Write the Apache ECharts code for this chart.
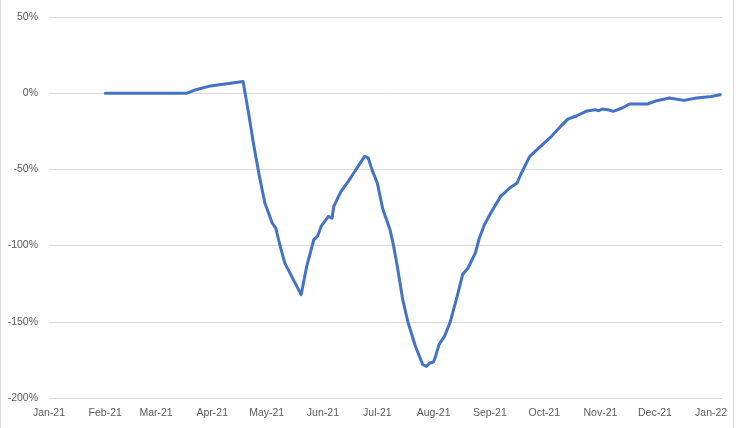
<!DOCTYPE html>
<html>
<head>
<meta charset="utf-8">
<script src="https://cdn.jsdelivr.net/npm/echarts@6/dist/echarts.min.js"></script>
<style>html,body{margin:0;padding:0;background:#fff}#c{width:736px;height:428px}</style>
</head>
<body>
<div id="c"></div>
<script>
const dates = ['2021-02-01','2021-03-18','2021-03-23','2021-03-30','2021-04-18','2021-04-21','2021-04-24','2021-04-27','2021-04-30','2021-05-04','2021-05-06','2021-05-08','2021-05-11','2021-05-20','2021-05-23','2021-05-27','2021-05-29','2021-05-31','2021-06-04','2021-06-06','2021-06-07','2021-06-11','2021-06-15','2021-06-18','2021-06-21','2021-06-24','2021-06-25','2021-06-26','2021-06-28','2021-07-01','2021-07-04','2021-07-08','2021-07-10','2021-07-12','2021-07-15','2021-07-18','2021-07-22','2021-07-26','2021-07-28','2021-07-30','2021-08-01','2021-08-02','2021-08-04','2021-08-07','2021-08-10','2021-08-14','2021-08-17','2021-08-20','2021-08-24','2021-08-26','2021-08-29','2021-09-02','2021-09-07','2021-09-12','2021-09-16','2021-09-18','2021-09-23','2021-09-29','2021-10-02','2021-10-05','2021-10-10','2021-10-14','2021-10-19','2021-10-24','2021-10-29','2021-10-31','2021-11-02','2021-11-05','2021-11-08','2021-11-13','2021-11-17','2021-11-27','2021-12-02','2021-12-09','2021-12-17','2021-12-24','2022-01-01','2022-01-06'];
const values = [0,0,2.3,4.5,7.7,-13,-35,-54.6,-72,-85,-88.5,-98.3,-111.5,-132.2,-114,-96,-94,-87.4,-80.8,-82,-74.3,-64.4,-57.9,-52.4,-46.9,-41.5,-40.5,-42.5,-50,-59,-76,-89.6,-100.5,-113.6,-135.5,-150.8,-166,-178,-179.3,-177,-176.4,-173,-165,-159.6,-150.8,-133.3,-119,-114.7,-104.9,-96,-86.3,-77.6,-67.7,-62.2,-59,-53.5,-41.5,-34.9,-31.6,-28.3,-21.8,-17,-14.8,-11.9,-10.8,-11.5,-10.4,-10.8,-11.9,-9.7,-7.1,-7.1,-4.9,-3.1,-4.7,-3.1,-2.1,-1];
const xMin = '2021-01-01';
const xMax = '2022-01-07';
const yTicks = [-200,-150,-100,-50,0,50];

const chart = echarts.init(document.getElementById('c'), null, {renderer:'canvas'});
const font = 'Liberation Sans';
chart.setOption({
  animation:false,
  backgroundColor:'#fff',
  grid:{left:49,right:14,top:17,bottom:30},
  graphic:[{type:'rect',shape:{x:0.5,y:-5,width:733,height:440},style:{fill:'none',stroke:'#d9d9d9',lineWidth:1},silent:true}],
  xAxis:{
    type:'time', min:xMin, max:xMax, splitNumber:12,
    axisLine:{show:false}, axisTick:{show:false}, splitLine:{show:false},
    axisLabel:{formatter:'{MMM}-{yy}', color:'#595959', fontFamily:font, fontSize:10.5, margin:10, showMaxLabel:false, hideOverlap:false}
  },
  yAxis:{
    type:'value', min:yTicks[0], max:yTicks[yTicks.length-1], interval:50,
    axisLine:{show:false}, axisTick:{show:false},
    splitLine:{lineStyle:{color:'#d9d9d9',width:1}},
    axisLabel:{formatter:'{value}%', color:'#595959', fontFamily:font, fontSize:10.5, margin:11}
  },
  series:[{
    type:'line', data:dates.map((d,i)=>[d,values[i]]),
    showSymbol:false, symbol:'none',
    lineStyle:{color:'#4472C4',width:3, join:'round', cap:'round'}
  }]
});
</script>
</body>
</html>
